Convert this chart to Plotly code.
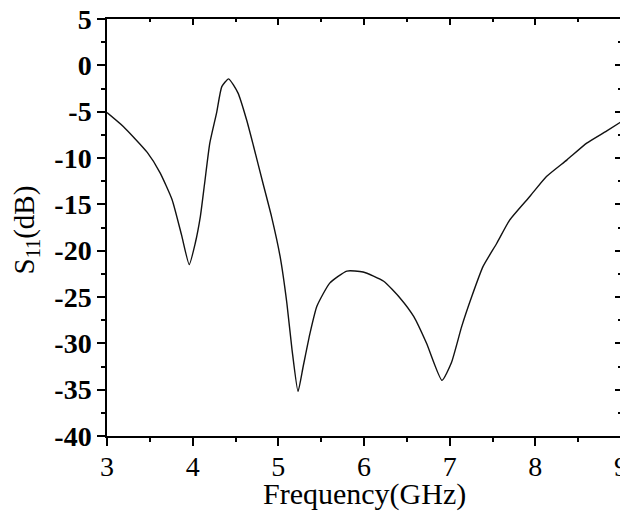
import plotly.graph_objects as go

freq = [3.0, 3.19, 3.47, 3.62, 3.76, 3.87, 3.96, 4.03, 4.09, 4.14, 4.20, 4.28, 4.34, 4.42,
        4.53, 4.63, 4.71, 4.82, 4.92, 5.02, 5.10, 5.16, 5.23, 5.29, 5.37, 5.45, 5.60, 5.80,
        5.99, 6.23, 6.42, 6.58, 6.73, 6.91, 7.02, 7.14, 7.26, 7.39, 7.55, 7.70, 7.94, 8.13,
        8.37, 8.60, 8.83, 9.0]
s11 = [-5.1, -6.6, -9.4, -11.6, -14.5, -18.3, -21.5, -19.2, -16.3, -12.7, -8.4, -5.1, -2.3, -1.46,
       -3.0, -5.9, -8.7, -12.7, -16.3, -20.6, -25.7, -30.7, -35.2, -32.5, -28.9, -26.0, -23.5, -22.2,
       -22.3, -23.3, -25.1, -27.1, -30.0, -34.0, -32.1, -28.2, -24.9, -21.7, -19.2, -16.7, -14.1, -12.0,
       -10.2, -8.4, -7.1, -6.1]

x_ticks = [3, 4, 5, 6, 7, 8, 9]
x_ticklabels = ["3", "4", "5", "6", "7", "8", "9"]
y_ticks = [5, 0, -5, -10, -15, -20, -25, -30, -35, -40]
y_ticklabels = ["5", "0", "-5", "-10", "-15", "-20", "-25", "-30", "-35", "-40"]
x_range = [3, 9]
y_range = [-40, 5]
x_title = "Frequency(GHz)"
y_title = "S<sub>11</sub>(dB)"

FONT = "Liberation Serif"

fig = go.Figure()
fig.add_trace(go.Scatter(x=freq, y=s11, mode="lines",
                         line=dict(color="#111111", width=1.4, shape="spline", smoothing=0.5),
                         showlegend=False))
# invisible trace to anchor mirrored (top/right) axes with inside ticks
fig.add_trace(go.Scatter(x=freq, y=s11, mode="lines", xaxis="x2", yaxis="y2",
                         line=dict(color="rgba(0,0,0,0)", width=0), showlegend=False,
                         hoverinfo="skip"))

fig.update_layout(
    width=620, height=505,
    margin=dict(l=99, r=7, t=11, b=77),
    paper_bgcolor="white", plot_bgcolor="white",
    font=dict(family=FONT, color="black"),
    xaxis=dict(range=x_range, tickmode="array", tickvals=x_ticks, ticktext=x_ticklabels,
               showgrid=False, zeroline=False, automargin=False, ticklabeloverflow="allow",
               ticklabelstandoff=-3,
               showline=True, linecolor="black", linewidth=1.5,
               ticks="outside", ticklen=8, tickwidth=1.5, tickcolor="black",
               minor=dict(ticks="outside", ticklen=4, tickwidth=1.5, dtick=0.5, tick0=3, tickcolor="black"),
               tickfont=dict(family=FONT, size=28, color="black")),
    yaxis=dict(range=y_range, tickmode="array", tickvals=y_ticks, ticktext=y_ticklabels,
               showgrid=False, zeroline=False, automargin=False, ticklabeloverflow="allow",
               showline=True, linecolor="black", linewidth=1.5,
               ticks="outside", ticklen=8, tickwidth=1.5, tickcolor="black",
               minor=dict(ticks="outside", ticklen=4, tickwidth=1.5, dtick=2.5, tick0=0, tickcolor="black"),
               tickfont=dict(family=FONT, size=28, color="black", weight="bold")),
    xaxis2=dict(range=x_range, overlaying="x", side="top", anchor="y2", tickmode="array",
                tickvals=x_ticks, automargin=False,
                showgrid=False, zeroline=False, showline=True, linecolor="black", linewidth=1.5,
                ticks="inside", ticklen=6, tickwidth=1.5, tickcolor="black", showticklabels=False,
                minor=dict(ticks="inside", ticklen=3, tickwidth=1.5, dtick=0.5, tick0=3, tickcolor="black")),
    yaxis2=dict(range=y_range, overlaying="y", side="right", anchor="x2", tickmode="array",
                tickvals=y_ticks, automargin=False,
                showgrid=False, zeroline=False, showline=True, linecolor="black", linewidth=1.5,
                ticks="inside", ticklen=6, tickwidth=1.5, tickcolor="black", showticklabels=False,
                minor=dict(ticks="inside", ticklen=3, tickwidth=1.5, dtick=2.5, tick0=0, tickcolor="black")),
    annotations=[
        dict(text=x_title, xref="paper", yref="paper", x=0.5, y=0, xanchor="center",
             yanchor="middle", yshift=-58, showarrow=False,
             font=dict(family=FONT, size=30, color="black")),
        dict(text=y_title, xref="paper", yref="paper", x=0, y=0.5, xanchor="center",
             yanchor="middle", xshift=-82, yshift=-3, textangle=-90, showarrow=False,
             font=dict(family=FONT, size=29, color="black")),
    ],
)

fig.write_html("out.html")
